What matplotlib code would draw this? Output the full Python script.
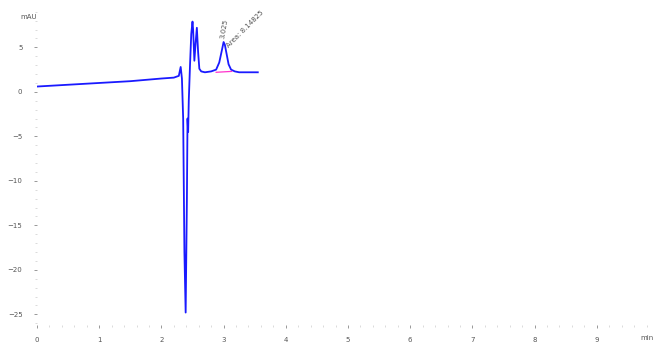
import matplotlib.pyplot as plt
import numpy as np
from matplotlib.ticker import MultipleLocator

# trace points (min, mAU)
time_min = [0.00, 0.50, 1.00, 1.50, 2.00, 2.20, 2.28, 2.31, 2.33, 2.35, 2.37, 2.39, 2.41,
            2.42, 2.43, 2.44, 2.46, 2.48, 2.50, 2.51, 2.53, 2.55, 2.57, 2.59, 2.61,
            2.64, 2.70, 2.80, 2.88, 2.93, 2.97, 3.00, 3.02, 3.05, 3.08, 3.12, 3.18,
            3.25, 3.35, 3.45, 3.55]
signal_mau = [0.6, 0.8, 1.0, 1.2, 1.5, 1.6, 1.8, 2.8, 1.5, -3.0, -18.0, -24.8, -12.0,
              -3.0, -4.5, -1.0, 3.0, 6.5, 7.9, 7.0, 3.5, 5.5, 7.2, 4.5, 2.6,
              2.3, 2.2, 2.3, 2.5, 3.3, 4.6, 5.6, 5.3, 4.2, 3.1, 2.5, 2.3,
              2.2, 2.2, 2.2, 2.2]

peak_rt = 3.025
peak_area = "8.14825"
base_t = [2.88, 3.13]
base_v = [2.2, 2.3]

fig = plt.figure(figsize=(6.56, 3.45), dpi=100)
ax = fig.add_axes([37 / 656, 1 - 325 / 345, 613 / 656, 315 / 345])

ax.plot(time_min, signal_mau, color='#1a1aff', lw=1.3)
ax.plot(base_t, base_v, color='#ff33cc', lw=0.9)

ax.text(peak_rt - 0.02, 5.9, f"{peak_rt:.3f}", rotation=80, fontsize=5,
        color='#555555', ha='center', va='bottom')
ax.text(peak_rt + 0.07, 4.9, f"Area: {peak_area}", rotation=45, fontsize=5,
        color='#555555', ha='left', va='bottom', rotation_mode='anchor')

ax.set_xlim(0, 613 / 62.2)
ax.set_ylim(-26.2, 9.2)

for s in ax.spines.values():
    s.set_visible(False)
ax.xaxis.set_major_locator(MultipleLocator(1))
ax.xaxis.set_minor_locator(MultipleLocator(0.2))
ax.yaxis.set_major_locator(MultipleLocator(5))
ax.yaxis.set_minor_locator(MultipleLocator(1))
ax.tick_params(axis='both', which='major', colors='#888888', labelcolor='#555555',
               labelsize=5, length=2.5, width=0.6)
ax.tick_params(axis='both', which='minor', colors='#cccccc', length=1.5, width=0.5)
ax.tick_params(axis='x', which='major', pad=6)
ax.tick_params(axis='y', which='major', pad=8)

fig.text(20 / 656, 1 - 17 / 345, "mAU", fontsize=5, color='#555555', va='center')
fig.text(654 / 656, 1 - 338 / 345, "min", fontsize=5, color='#555555',
         va='center', ha='right')

fig.savefig("out.png", dpi=100)
